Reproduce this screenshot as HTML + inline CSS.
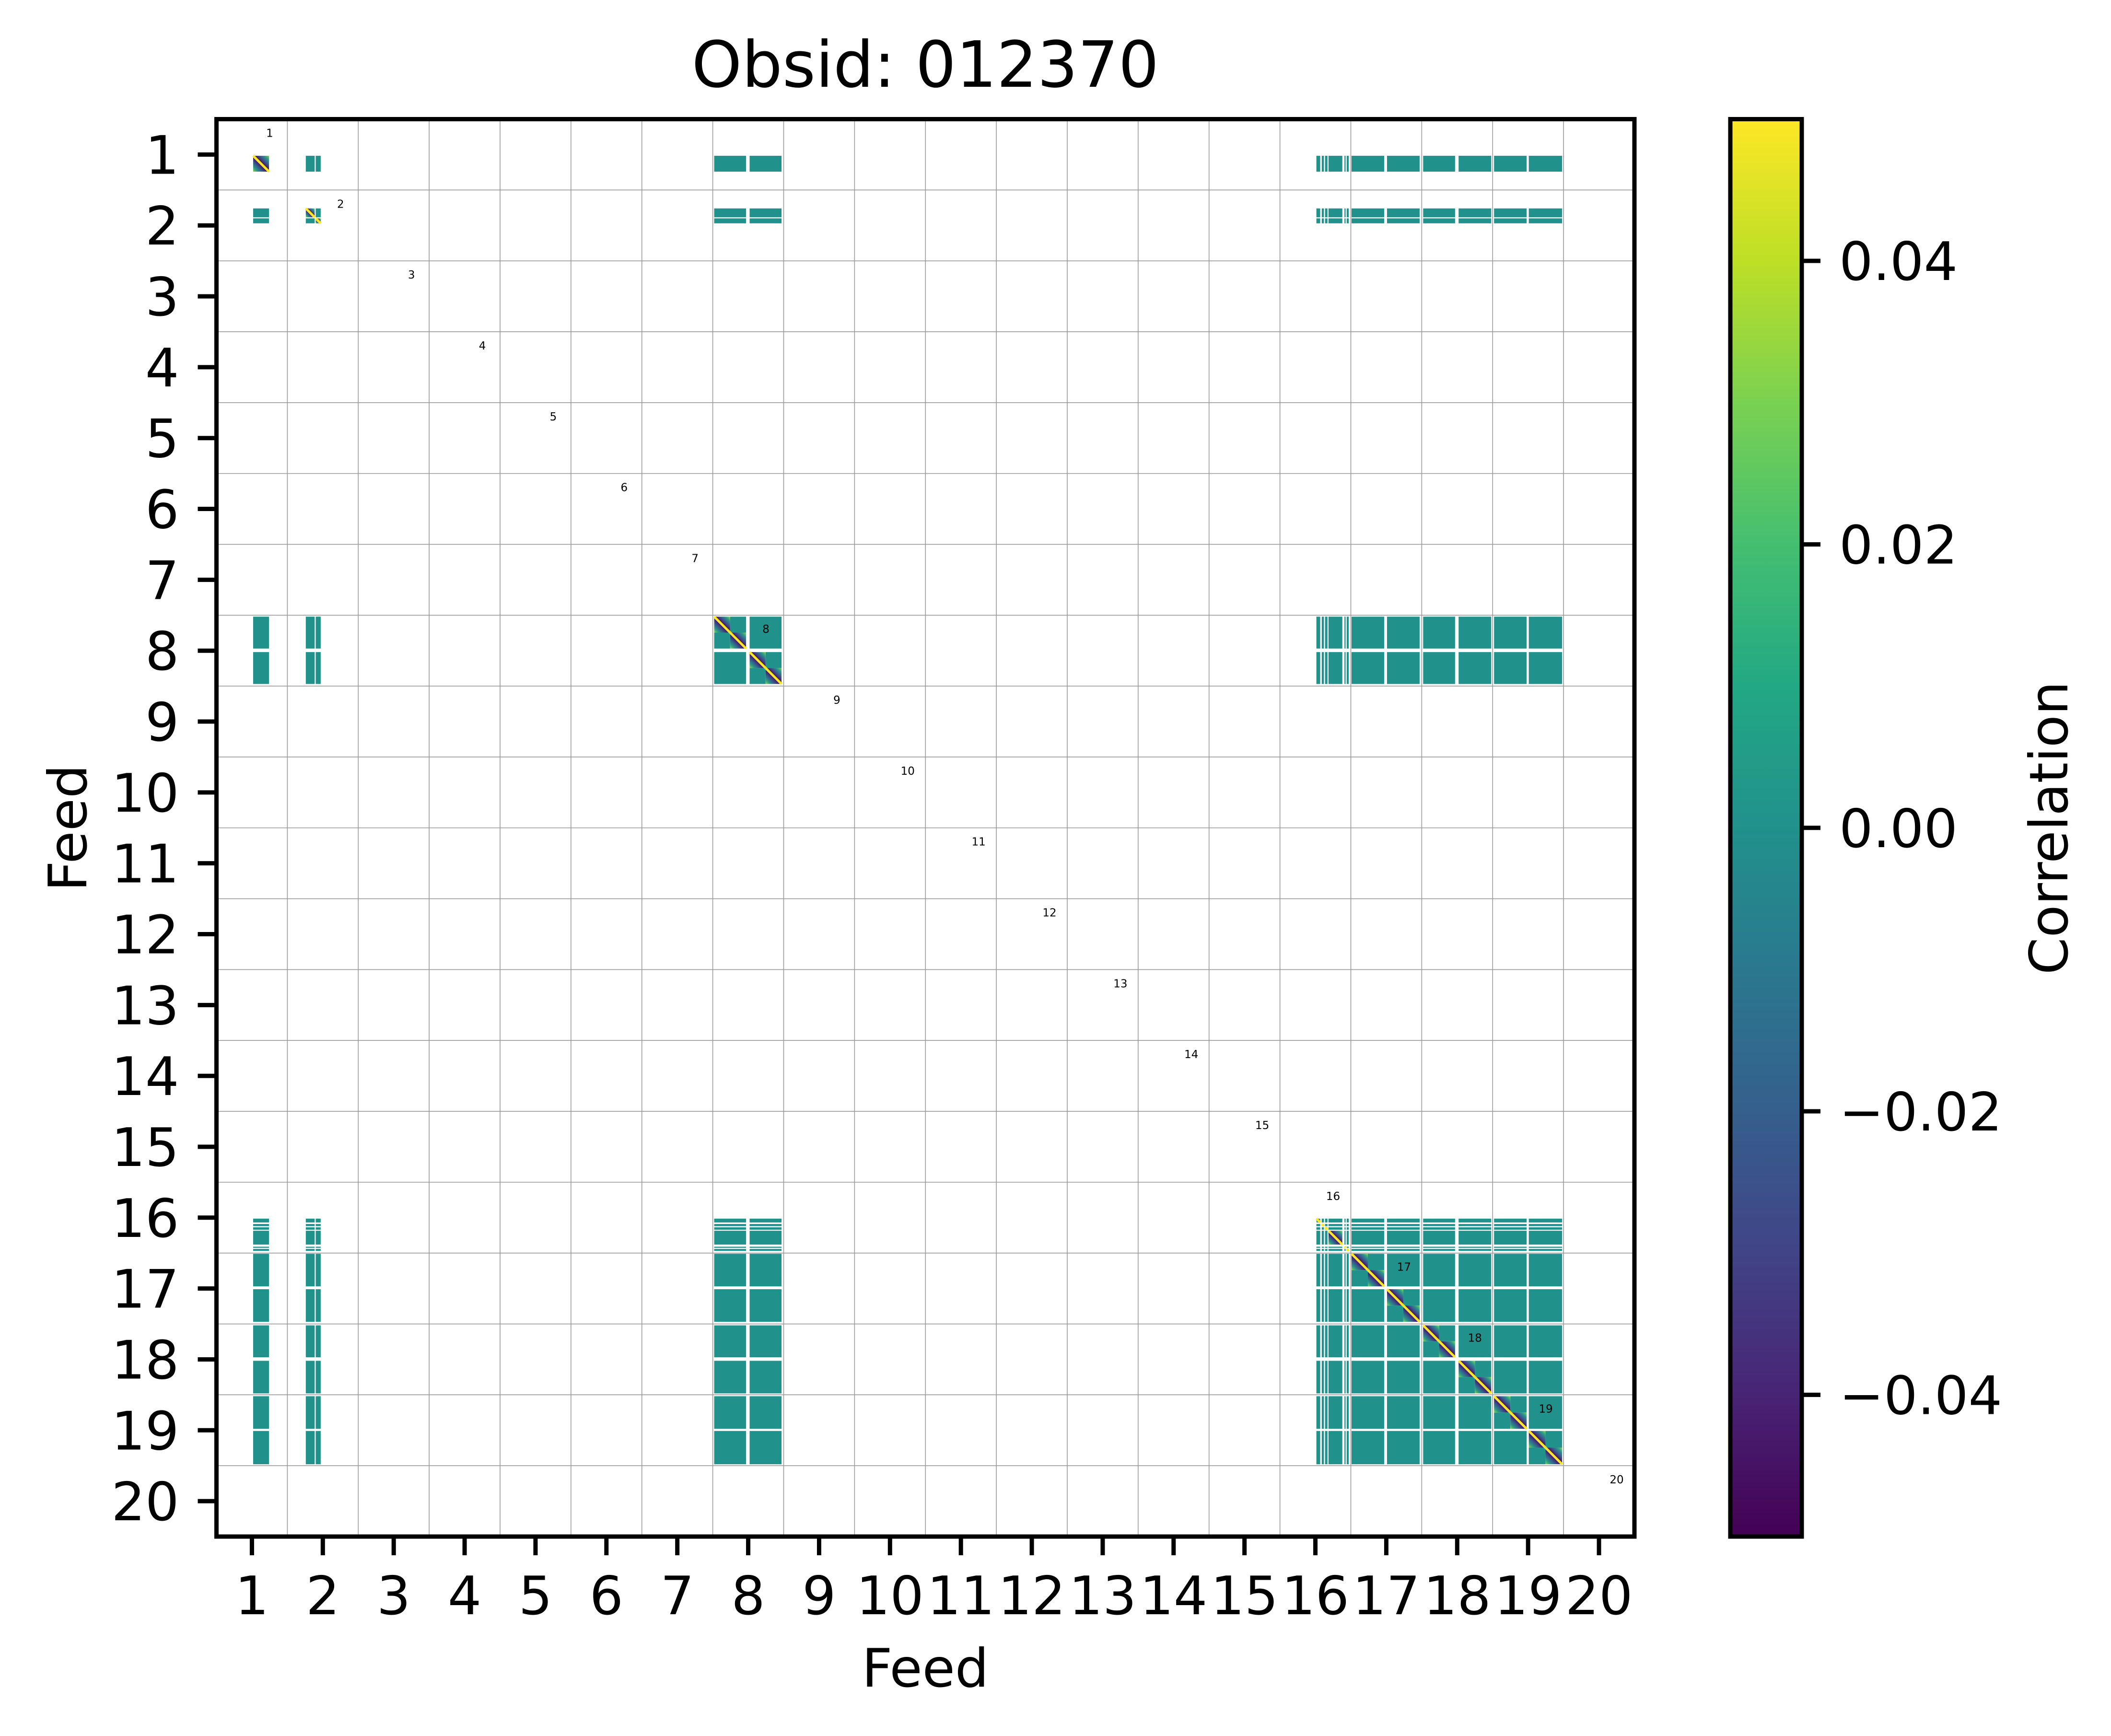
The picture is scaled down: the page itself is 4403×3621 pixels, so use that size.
<!DOCTYPE html>
<html><head><meta charset="utf-8"><title>Obsid: 012370</title>
<style>
html,body{margin:0;padding:0;background:#fff;}
svg{display:block;font-family:"DejaVu Sans","Liberation Sans",sans-serif;}
</style></head>
<body>
<svg id="fig" xmlns="http://www.w3.org/2000/svg" width="4403" height="3621" viewBox="0 0 4403 3621">
<defs>
<linearGradient id="viridis" x1="0" y1="1" x2="0" y2="0">
<stop offset="0" stop-color="#440154"/><stop offset="0.1" stop-color="#482475"/>
<stop offset="0.2" stop-color="#414487"/><stop offset="0.3" stop-color="#355f8d"/>
<stop offset="0.4" stop-color="#2a788e"/><stop offset="0.5" stop-color="#21918c"/>
<stop offset="0.6" stop-color="#22a884"/><stop offset="0.7" stop-color="#44bf70"/>
<stop offset="0.8" stop-color="#7ad151"/><stop offset="0.9" stop-color="#bddf26"/>
<stop offset="1" stop-color="#fde725"/>
</linearGradient>
<linearGradient id="diagGrad" x1="0" y1="1" x2="1" y2="0">
<stop offset="0" stop-color="#86d549"/><stop offset="0.15" stop-color="#2a9a8a"/>
<stop offset="0.32" stop-color="#3b528b"/><stop offset="0.5" stop-color="#440154"/>
<stop offset="0.68" stop-color="#3b528b"/><stop offset="0.85" stop-color="#2a9a8a"/>
<stop offset="1" stop-color="#86d549"/>
</linearGradient>
</defs>
<rect x="0" y="0" width="4403" height="3621" fill="#fff"/>
<text x="1930" y="181" font-size="133" text-anchor="middle">Obsid: 012370</text>
<g id="grid"></g>
<g id="cells"></g>
<g id="labels"></g>
<rect x="451.5" y="248.5" width="2957.5" height="2956.5" fill="none" stroke="#000" stroke-width="9"/>
<g id="xticks"></g>
<g id="yticks"></g>
<text x="1930" y="3518" font-size="111" text-anchor="middle">Feed</text>
<text x="0" y="0" font-size="111" text-anchor="middle" transform="translate(180,1727) rotate(-90)">Feed</text>
<rect x="3609" y="248.5" width="149" height="2956.5" fill="url(#viridis)"/>
<rect x="3609" y="248.5" width="149" height="2956.5" fill="none" stroke="#000" stroke-width="9"/>
<g id="cticks"></g>
<text x="0" y="0" font-size="111" text-anchor="middle" transform="translate(4312,1727) rotate(-90)">Correlation</text>
</svg>
<script>
// ---- data ----
const feedLabels = [1,2,3,4,5,6,7,8,9,10,11,12,13,14,15,16,17,18,19,20];
const activeFeeds = [1,2,8,16,17,18,19];
const segStart = [[0.517],[1.26,1.40],[7.02,7.52],[15.514,15.59,15.636,15.685,15.91,15.942],[16.01,16.51],[17.02,17.52],[18.02,18.51]];
const segEnd   = [[0.741],[1.385,1.47],[7.47,7.97],[15.568,15.62,15.67,15.88,15.926,15.97],[16.47,16.97],[17.47,17.98],[18.48,18.98]];
const offDiagValue = 0.0;
const diagValue = 1.0;
const cbTickValues = [-0.04,-0.02,0.0,0.02,0.04];
const cbTickLabels = ["\u22120.04","\u22120.02","0.00","0.02","0.04"];
const cbMin = -0.05, cbMax = 0.05;

// ---- axes ----
const L = 451.5, T = 248.5, W = 2957.5, H = 2956.5, N = 20;
const sx = u => L + u * W / N;
const sy = u => T + u * H / N;
const cy = v => T + (cbMax - v) / (cbMax - cbMin) * H;
const NS = "http://www.w3.org/2000/svg";
function mk(tag, attrs, parent){ const e=document.createElementNS(NS,tag); for(const k in attrs) e.setAttribute(k,attrs[k]); parent.appendChild(e); return e; }
const vir = ["#440154","#482475","#414487","#355f8d","#2a788e","#21918c","#22a884","#44bf70","#7ad151","#bddf26","#fde725"];
function color(v){ let t=(v-cbMin)/(cbMax-cbMin); t=Math.max(0,Math.min(1,t)); return vir[Math.round(t*10)]; }

const grid = document.getElementById('grid');
for (let k=1;k<N;k++){
  const gv = mk('line',{x1:sx(k),x2:sx(k),y1:T,y2:T+H,stroke:'#9a9a9a','stroke-width':1.6},grid);
  
  
  const gh = mk('line',{x1:L,x2:L+W,y1:sy(k),y2:sy(k),stroke:'#9a9a9a','stroke-width':1.6},grid);
  
  
}

const cells = document.getElementById('cells');
function diagBlock(x0,x1,y0,y1,parent){
  const g = mk('rect',{x:x0,y:y0,width:x1-x0,height:y1-y0,fill:'url(#diagGrad)'},parent);
  
  
  const ln = mk('line',{x1:x0,y1:y0,x2:x1,y2:y1,stroke:color(diagValue),'stroke-width':5},parent);
  
  
}
for (let a=0;a<activeFeeds.length;a++){
  for (let i=0;i<segStart[a].length;i++){
    for (let b=0;b<activeFeeds.length;b++){
      for (let j=0;j<segStart[b].length;j++){
        const x0=sx(segStart[b][j]), x1=sx(segEnd[b][j]);
        const y0=sy(segStart[a][i]), y1=sy(segEnd[a][i]);
        if (a===b && i===j){
          const w=segEnd[a][i]-segStart[a][i];
          if (w>0.3){
            const xm=(x0+x1)/2, ym=(y0+y1)/2;
            const q1 = mk('rect',{x:xm,y:y0,width:x1-xm,height:ym-y0,fill:color(offDiagValue)},cells);
            
            
            const q2 = mk('rect',{x:x0,y:ym,width:xm-x0,height:y1-ym,fill:color(offDiagValue)},cells);
            
            
            diagBlock(x0,xm,y0,ym,cells);
            diagBlock(xm,x1,ym,y1,cells);
          } else {
            diagBlock(x0,x1,y0,y1,cells);
          }
        } else {
          const r = mk('rect',{x:x0,y:y0,width:x1-x0,height:y1-y0,fill:color(offDiagValue)},cells);
          
          
        }
      }
    }
  }
}

const labels = document.getElementById('labels');
feedLabels.forEach((f,k)=>{
  const t = mk('text',{x:sx(k+0.75),y:sy(k+0.25),'font-size':23,'text-anchor':'middle'},labels);
  t.textContent = String(f);
  
  
});

const xt = document.getElementById('xticks'), yt = document.getElementById('yticks');
feedLabels.forEach((f,k)=>{
  const x = sx(k+0.5), y = sy(k+0.5);
  const a = mk('line',{x1:x,x2:x,y1:T+H,y2:T+H+39,stroke:'#000','stroke-width':9},xt);
  
  
  const at = mk('text',{x:x,y:3367,'font-size':111,'text-anchor':'middle'},xt);
  at.textContent = String(f);
  
  
  const b = mk('line',{x1:L-39,x2:L,y1:y,y2:y,stroke:'#000','stroke-width':9},yt);
  
  
  const bt = mk('text',{x:L-78,y:y+40,'font-size':111,'text-anchor':'end'},yt);
  bt.textContent = String(f);
  
  
});

const ct = document.getElementById('cticks');
cbTickValues.forEach((v,k)=>{
  const y = cy(v);
  const l = mk('line',{x1:3758,x2:3797,y1:y,y2:y,stroke:'#000','stroke-width':9},ct);
  
  
  const t = mk('text',{x:3836,y:y+40,'font-size':111},ct);
  t.textContent = cbTickLabels[k];
  
  
});
</script>
</body></html>
